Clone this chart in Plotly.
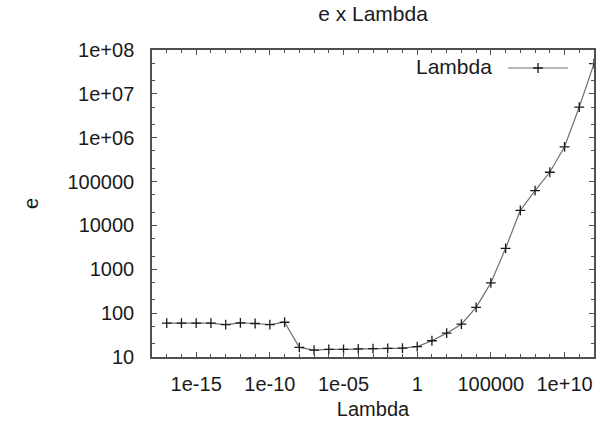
import plotly.graph_objects as go

lambda_vals = [1e-17, 1e-16, 1e-15, 1e-14, 1e-13, 1e-12, 1e-11, 1e-10, 1e-9, 1e-8,
               1e-7, 1e-6, 1e-5, 1e-4, 1e-3, 1e-2, 1e-1, 1e0, 1e1, 1e2,
               1e3, 1e4, 1e5, 1e6, 1e7, 1e8, 1e9, 1e10, 1e11, 1e12]
e_vals = [59, 59, 59, 59, 55, 60, 58, 55, 62, 16.6,
          14.4, 15, 15, 15.3, 15.5, 15.8, 16, 17.2, 23.5, 35,
          56, 135, 490, 3000, 22000, 62000, 163000, 620000, 5.0e6, 4.9e7]

x_tickvals = [1e-15, 1e-10, 1e-5, 1, 1e5, 1e10]
x_ticktext = ["1e-15", "1e-10", "1e-05", "1", "100000", "1e+10"]
y_tickvals = [10, 100, 1000, 10000, 100000, 1e6, 1e7, 1e8]
y_ticktext = ["10", "100", "1000", "10000", "100000", "1e+06", "1e+07", "1e+08"]

FONT = "Liberation Sans, Arial, sans-serif"
AX = "#505050"
TXT = "#1a1a1a"

fig = go.Figure()
fig.add_trace(go.Scatter(
    x=lambda_vals, y=e_vals, mode="lines+markers", name=" ",
    line=dict(color="#707070", width=1.2),
    marker=dict(symbol="cross-thin", size=7, line=dict(color="#1a1a1a", width=1.3), color="#1a1a1a"),
))

fig.update_layout(
    width=610, height=430,
    margin=dict(l=152, r=16, t=50, b=73),
    paper_bgcolor="white", plot_bgcolor="white",
    font=dict(family=FONT, size=20, color=TXT),
    title=dict(text="e x Lambda", x=(152 + 594) / 2 / 610, xanchor="center",
               y=1 - 14 / 430, yanchor="middle",
               font=dict(family=FONT, size=21, color=TXT)),
    showlegend=True,
    legend=dict(x=(503 - 152) / (594 - 152), xanchor="left",
                y=1 - (68 - 50) / (357 - 50), yanchor="middle",
                bgcolor="rgba(0,0,0,0)", font=dict(size=20), itemwidth=60,
                tracegroupgap=0),
    annotations=[dict(text="Lambda", xref="paper", yref="paper",
                      x=(494 - 152) / (594 - 152), xanchor="right",
                      y=1 - (66 - 50) / (357 - 50), yanchor="middle",
                      showarrow=False, font=dict(family=FONT, size=21, color=TXT))],
)

fig.update_xaxes(
    type="log", range=[-18, 12],
    tickvals=x_tickvals, ticktext=x_ticktext,
    ticks="inside", ticklen=5, tickcolor=AX, tickwidth=1,
    minor=dict(ticks="inside", ticklen=3, dtick=1, tickcolor=AX, showgrid=False),
    showline=True, linecolor=AX, linewidth=1.5, mirror="allticks",
    showgrid=False, zeroline=False,
    ticklabelstandoff=8,
    tickfont=dict(size=20),
    title=dict(text="Lambda", standoff=8, font=dict(size=20)),
)
fig.update_yaxes(
    type="log", range=[1, 8],
    tickvals=y_tickvals, ticktext=y_ticktext,
    ticks="inside", ticklen=5, tickcolor=AX, tickwidth=1,
    minor=dict(ticks="inside", ticklen=3, dtick="D2", tickcolor=AX, showgrid=False),
    showline=True, linecolor=AX, linewidth=1.5, mirror="allticks",
    showgrid=False, zeroline=False,
    ticklabelstandoff=12,
    tickfont=dict(size=20),
    title=dict(text="e", standoff=24, font=dict(size=20)),
)

fig.write_html("out.html")
